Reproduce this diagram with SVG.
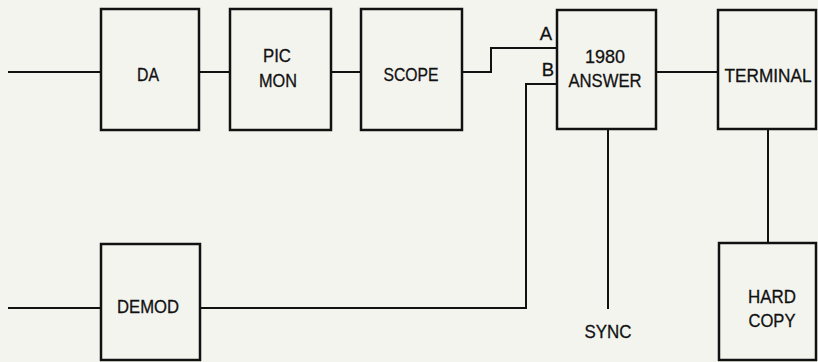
<svg xmlns="http://www.w3.org/2000/svg" width="818" height="362" viewBox="0 0 818 362">
<style>
.bx{fill:none;stroke:#111;stroke-width:2.5}
.ln{fill:none;stroke:#111;stroke-width:2}
.t{font-family:"Liberation Sans",Arial,sans-serif;font-size:18.5px;fill:#111;stroke:#111;stroke-width:0.3;text-anchor:middle}
</style>
<rect width="818" height="362" fill="#f4f4ef"/>
<g id="connectors">
<path class="ln" d="M8 72H101"/>
<path class="ln" d="M199 72H230"/>
<path class="ln" d="M331 72H361"/>
<path class="ln" d="M462 72H491V48H557"/>
<path class="ln" d="M557 84H526V308H200"/>
<path class="ln" d="M8 308H101"/>
<path class="ln" d="M656 72H718"/>
<path class="ln" d="M608 129V309"/>
<path class="ln" d="M768 129V243"/>
</g>
<g id="da"><rect class="bx" x="101" y="9" width="98" height="121"/><text class="t" x="148" y="81" textLength="22" lengthAdjust="spacingAndGlyphs">DA</text></g>
<g id="picmon"><rect class="bx" x="230" y="9" width="101" height="121"/><text class="t" x="277" y="62" textLength="28" lengthAdjust="spacingAndGlyphs">PIC</text><text class="t" x="278" y="87" textLength="38" lengthAdjust="spacingAndGlyphs">MON</text></g>
<g id="scope"><rect class="bx" x="361" y="9" width="101" height="121"/><text class="t" x="411" y="81" textLength="55" lengthAdjust="spacingAndGlyphs">SCOPE</text></g>
<g id="answer"><rect class="bx" x="557" y="10" width="99" height="119"/><text class="t" x="605" y="63" textLength="40" lengthAdjust="spacingAndGlyphs">1980</text><text class="t" x="605" y="87" textLength="73" lengthAdjust="spacingAndGlyphs">ANSWER</text>
<text class="t" x="546" y="40">A</text><text class="t" x="548" y="76">B</text></g>
<g id="terminal"><rect class="bx" x="718" y="10" width="98" height="119"/><text class="t" x="768" y="82" textLength="87" lengthAdjust="spacingAndGlyphs">TERMINAL</text></g>
<g id="demod"><rect class="bx" x="101" y="244" width="99" height="116"/><text class="t" x="148" y="313" textLength="62" lengthAdjust="spacingAndGlyphs">DEMOD</text></g>
<g id="sync"><text class="t" x="608" y="338" textLength="47" lengthAdjust="spacingAndGlyphs">SYNC</text></g>
<g id="hardcopy"><rect class="bx" x="719" y="243" width="97" height="117"/><text class="t" x="772" y="303" textLength="48" lengthAdjust="spacingAndGlyphs">HARD</text><text class="t" x="772" y="327" textLength="47" lengthAdjust="spacingAndGlyphs">COPY</text></g>
</svg>
